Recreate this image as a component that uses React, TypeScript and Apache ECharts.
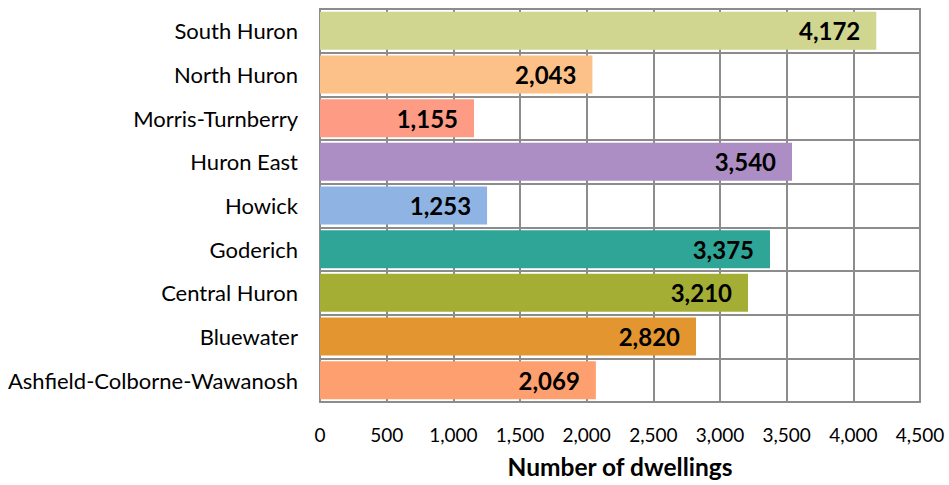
import React, { useEffect, useRef } from "react";
import * as echarts from "echarts";

const categories = [
  "Ashfield-Colborne-Wawanosh",
  "Bluewater",
  "Central Huron",
  "Goderich",
  "Howick",
  "Huron East",
  "Morris-Turnberry",
  "North Huron",
  "South Huron",
];
const values = [2069, 2820, 3210, 3375, 1253, 3540, 1155, 2043, 4172];
const colors = [
  "#fe9f6f",
  "#e3962f",
  "#a4ae35",
  "#2ea596",
  "#8fb4e3",
  "#ad8ec4",
  "#fd9b85",
  "#fcc189",
  "#d0d68f",
];
const axisTitle = "Number of dwellings";

const FONT = "Lato, 'Open Sans', sans-serif";
const fmt = (v: number) => v.toLocaleString("en-US");

export default function App() {
  const ref = useRef<HTMLDivElement>(null);
  useEffect(() => {
    if (!ref.current) return;
    const chart = echarts.init(ref.current, null, { renderer: "svg" });
    chart.setOption({
      animation: false,
      grid: {
        left: 320,
        right: 29,
        top: 9,
        bottom: 83,
        show: true,
        borderColor: "#8c8c8c",
        borderWidth: 2,
        outerBoundsMode: "none",
        containLabel: false,
      },
      xAxis: {
        type: "value",
        min: 0,
        max: 4500,
        interval: 500,
        axisLine: { show: false },
        axisTick: { show: false },
        splitLine: { show: true, lineStyle: { color: "#8c8c8c", width: 2 } },
        axisLabel: {
          color: "#000",
          fontSize: 19,
          fontFamily: FONT,
          margin: 23,
          formatter: (v: number) => fmt(v),
        },
        name: axisTitle,
        nameLocation: "middle",
        nameGap: 52,
        nameTextStyle: { color: "#000", fontSize: 24.5, fontWeight: "bold", fontFamily: FONT },
      },
      yAxis: {
        type: "category",
        data: categories,
        axisLine: { show: false },
        axisTick: { show: false },
        splitLine: { show: true, lineStyle: { color: "#8c8c8c", width: 2 } },
        axisLabel: { color: "#000", fontSize: 22, fontFamily: FONT, margin: 22 },
      },
      series: [
        {
          type: "bar",
          data: values.map((v, i) => ({ value: v, itemStyle: { color: colors[i] } })),
          barCategoryGap: "13%",
          label: {
            show: true,
            position: "insideRight",
            distance: 16,
            color: "#000",
            fontSize: 24,
            fontWeight: "bold",
            fontFamily: FONT,
            formatter: (p: any) => fmt(p.value),
          },
        },
      ],
    });
    return () => chart.dispose();
  }, []);
  return (
    <div
      ref={ref}
      style={{ position: "absolute", left: 0, top: 0, width: 949, height: 485 }}
    />
  );
}
